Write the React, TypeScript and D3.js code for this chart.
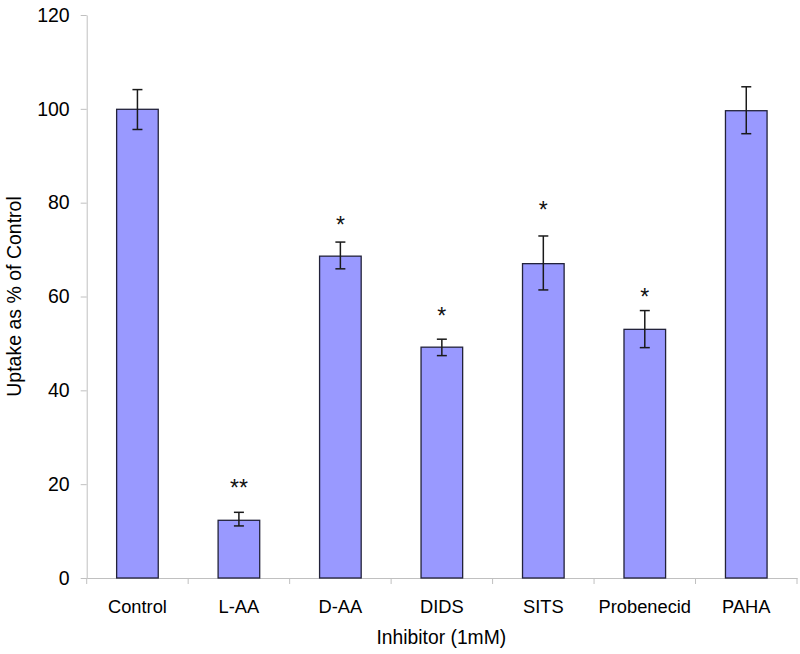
import React, { useEffect, useRef } from "react";
import * as d3 from "d3";

// values (uptake as % of control, mean and error bar ends)
const categories = ["Control", "L-AA", "D-AA", "DIDS", "SITS", "Probenecid", "PAHA"];
const uptake = [99.9, 12.3, 68.6, 49.2, 67.0, 53.0, 99.6];
const errUpper = [104.1, 14.0, 71.6, 50.9, 72.9, 57.0, 104.7];
const errLower = [95.6, 11.1, 65.9, 47.4, 61.4, 49.1, 94.7];
// significance marks and the height they sit at
const sigMarks = ["", "**", "*", "*", "*", "*", ""];
const sigLevel = [0, 20.2, 76.2, 56.9, 79.4, 60.9, 0];
const yTicks = [0, 20, 40, 60, 80, 100, 120];

const W = 800;
const H = 654;
const FONT = "'Liberation Sans', Arial, sans-serif";

const App = () => {
  const ref = useRef<SVGSVGElement>(null);

  useEffect(() => {
    const svg = d3.select(ref.current);
    svg.selectAll("*").remove();

    const x = d3.scaleBand().domain(categories).range([86.7, 797]);
    const y = d3.scaleLinear().domain([0, 120]).range([578, 15]);
    const barW = x.bandwidth() * 0.41;

    const rows = categories.map((c, i) => ({
      cat: c,
      v: uptake[i],
      hi: errUpper[i],
      lo: errLower[i],
      mark: sigMarks[i],
      markAt: sigLevel[i],
    }));

    // y axis
    const yAxis = svg
      .append("g")
      .attr("transform", "translate(86.7,0)")
      .call(d3.axisLeft(y).tickValues(yTicks).tickSizeInner(6).tickSizeOuter(0).tickPadding(11));
    yAxis.select(".domain").attr("stroke", "#c0c0c0");
    yAxis.selectAll(".tick line").attr("stroke", "#c0c0c0");
    yAxis
      .selectAll(".tick text")
      .attr("fill", "#000")
      .style("font-family", FONT)
      .style("font-size", "19.5px");

    // x axis: labels from axisBottom, ticks on band edges
    const xAxis = svg
      .append("g")
      .attr("transform", "translate(0,578)")
      .call(d3.axisBottom(x).tickSize(0).tickPadding(22));
    xAxis.select(".domain").attr("stroke", "#c0c0c0");
    xAxis
      .selectAll(".tick text")
      .attr("fill", "#000")
      .style("font-family", FONT)
      .style("font-size", "18.3px");

    const edges = categories.map((c) => x(c) as number).concat([x.range()[1]]);
    svg
      .append("g")
      .selectAll("line")
      .data(edges)
      .enter()
      .append("line")
      .attr("x1", (d) => d)
      .attr("x2", (d) => d)
      .attr("y1", 578)
      .attr("y2", 584)
      .attr("stroke", "#c0c0c0");

    // bars
    svg
      .append("g")
      .selectAll("rect")
      .data(rows)
      .enter()
      .append("rect")
      .attr("x", (d) => (x(d.cat) as number) + x.bandwidth() / 2 - barW / 2)
      .attr("y", (d) => y(d.v))
      .attr("width", barW)
      .attr("height", (d) => y(0) - y(d.v))
      .attr("fill", "#9999ff")
      .attr("stroke", "#22223a")
      .attr("stroke-width", 1.3);

    // error bars
    const eb = svg.append("g").attr("stroke", "#1a1a1a").attr("stroke-width", 1.5);
    rows.forEach((d) => {
      const cx = (x(d.cat) as number) + x.bandwidth() / 2;
      eb.append("line").attr("x1", cx).attr("x2", cx).attr("y1", y(d.hi)).attr("y2", y(d.lo));
      eb.append("line").attr("x1", cx - 5).attr("x2", cx + 5).attr("y1", y(d.hi)).attr("y2", y(d.hi));
      eb.append("line").attr("x1", cx - 5).attr("x2", cx + 5).attr("y1", y(d.lo)).attr("y2", y(d.lo));
    });

    // significance stars
    svg
      .append("g")
      .selectAll("text")
      .data(rows.filter((d) => d.mark !== ""))
      .enter()
      .append("text")
      .attr("x", (d) => (x(d.cat) as number) + x.bandwidth() / 2)
      .attr("y", (d) => y(d.markAt) + 13)
      .attr("text-anchor", "middle")
      .style("font-family", FONT)
      .style("font-size", "23px")
      .attr("fill", "#111")
      .text((d) => d.mark);

    // axis titles
    svg
      .append("text")
      .attr("x", (86.7 + 797) / 2 - 0.5)
      .attr("y", 644)
      .attr("text-anchor", "middle")
      .style("font-family", FONT)
      .style("font-size", "19.3px")
      .text("Inhibitor (1mM)");

    svg
      .append("text")
      .attr("transform", `translate(21,${(578 + 15) / 2}) rotate(-90)`)
      .attr("text-anchor", "middle")
      .style("font-family", FONT)
      .style("font-size", "19.5px")
      .text("Uptake as % of Control");
  }, []);

  return (
    <svg
      ref={ref}
      width={W}
      height={H}
      style={{ position: "absolute", left: 0, top: 0, background: "#fff" }}
    ></svg>
  );
};

export default App;
